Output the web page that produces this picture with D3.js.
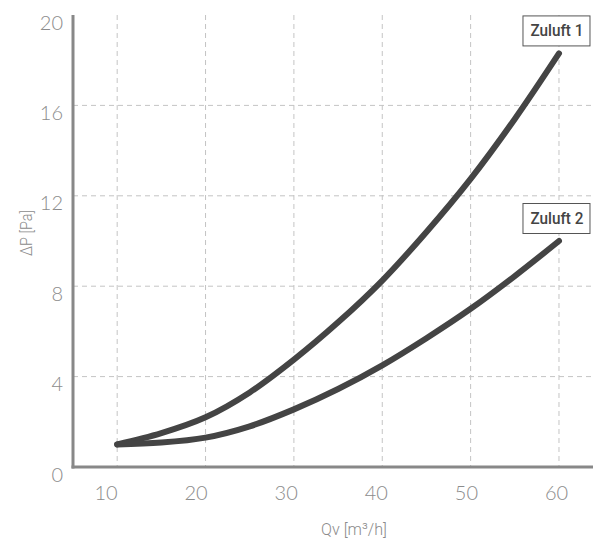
<!DOCTYPE html>
<html>
<head>
<meta charset="utf-8">
<script src="https://cdn.jsdelivr.net/npm/d3@7"></script>
<style>
  html, body { margin: 0; padding: 0; background: #fff; }
  svg { display: block; }
</style>
</head>
<body>
<svg id="chart" width="593" height="538"></svg>
<script>
const flow = [10, 15, 20, 25, 30, 35, 40, 45, 50, 55, 60];
const zuluft1 = [1.0, 1.5, 2.2, 3.3, 4.75, 6.4, 8.25, 10.4, 12.75, 15.4, 18.3];
const zuluft2 = [1.0, 1.08, 1.3, 1.8, 2.55, 3.45, 4.5, 5.7, 7.0, 8.45, 10.0];
const seriesNames = ["Zuluft 1", "Zuluft 2"];
const xTicks = [10, 20, 30, 40, 50, 60];
const yTicks = [0, 4, 8, 12, 16, 20];
const xTitle = "Qv [m³/h]";
const yTitle = "ΔP [Pa]";

(function () {
const svg = d3.select("#chart");
const pLeft = 73, pRight = 593, pTop = 15, pBottom = 467;

const x = d3.scaleLinear().domain([5, 63.85]).range([pLeft, pRight]);
const xLab = d3.scaleLinear().domain([10, 60]).range([106, 556.5]);
const y = d3.scaleLinear().domain([0, 20]).range([pBottom, pTop]);

const grid = svg.append("g");
grid.selectAll("line.v").data(xTicks).join("line")
  .attr("x1", d => x(d)).attr("x2", d => x(d))
  .attr("y1", pTop).attr("y2", pBottom)
  .attr("stroke", "#c4c4c4").attr("stroke-width", 1).attr("stroke-dasharray", "5,4");
grid.selectAll("line.h").data(yTicks.filter(d => d > 0 && d < 20)).join("line")
  .attr("x1", pLeft).attr("x2", pRight)
  .attr("y1", d => y(d)).attr("y2", d => y(d))
  .attr("stroke", "#c4c4c4").attr("stroke-width", 1).attr("stroke-dasharray", "5,4");

svg.append("line").attr("x1", pLeft).attr("x2", pLeft).attr("y1", pTop).attr("y2", pBottom + 1.5)
  .attr("stroke", "#888").attr("stroke-width", 3);
svg.append("line").attr("x1", pLeft - 1.5).attr("x2", pRight).attr("y1", pBottom).attr("y2", pBottom)
  .attr("stroke", "#888").attr("stroke-width", 3);

const tickFont = "Lato, 'Open Sans', sans-serif";
svg.append("g").selectAll("text").data(yTicks).join("text")
  .attr("x", 63).attr("y", d => y(d) + 14.5)
  .attr("text-anchor", "end")
  .attr("font-family", tickFont).attr("font-weight", 300)
  .attr("font-size", 20).attr("fill", "#8c8c8c")
  .text(d => d);
svg.append("g").selectAll("text").data(xTicks).join("text")
  .attr("x", d => xLab(d)).attr("y", 499.5)
  .attr("text-anchor", "middle")
  .attr("font-family", tickFont).attr("font-weight", 300)
  .attr("font-size", 20).attr("fill", "#8c8c8c")
  .text(d => d);

svg.append("text")
  .attr("transform", "translate(32,233) rotate(-90)")
  .attr("text-anchor", "middle")
  .attr("font-family", "Roboto, sans-serif").attr("font-weight", 300)
  .attr("font-size", 17).attr("fill", "#8c8c8c")
  .attr("textLength", 46).attr("lengthAdjust", "spacingAndGlyphs")
  .text(yTitle);
svg.append("text")
  .attr("x", 354).attr("y", 535)
  .attr("text-anchor", "middle")
  .attr("font-family", "Roboto, sans-serif").attr("font-weight", 300)
  .attr("font-size", 17).attr("fill", "#8c8c8c")
  .attr("textLength", 66).attr("lengthAdjust", "spacingAndGlyphs")
  .text(xTitle);

const line = d3.line().x(d => x(d[0])).y(d => y(d[1])).curve(d3.curveCatmullRom.alpha(0.5));
const series = [zuluft1, zuluft2];
series.forEach((vals, i) => {
  const pts = flow.map((f, j) => [f, vals[j]]);
  svg.append("path").datum(pts)
    .attr("d", line)
    .attr("fill", "none").attr("stroke", "#444")
    .attr("stroke-width", 6).attr("stroke-linecap", "round").attr("stroke-linejoin", "round");

  const last = pts[pts.length - 1];
  const cx = x(last[0]) - 3;
  const by = y(last[1]) - 8;
  const w = 67, h = 30;
  const g = svg.append("g");
  g.append("rect")
    .attr("x", cx - w / 2 + 0.5).attr("y", by - h + 0.5)
    .attr("width", w).attr("height", h)
    .attr("fill", "#fff").attr("stroke", "#555").attr("stroke-width", 1);
  g.append("text")
    .attr("x", cx + 1).attr("y", by - h / 2 + 6)
    .attr("text-anchor", "middle")
    .attr("font-family", "Roboto, sans-serif").attr("font-weight", 500)
    .attr("font-size", 17).attr("fill", "#444")
    .attr("textLength", 53).attr("lengthAdjust", "spacingAndGlyphs")
    .text(seriesNames[i]);
});
})();
</script>
</body>
</html>
